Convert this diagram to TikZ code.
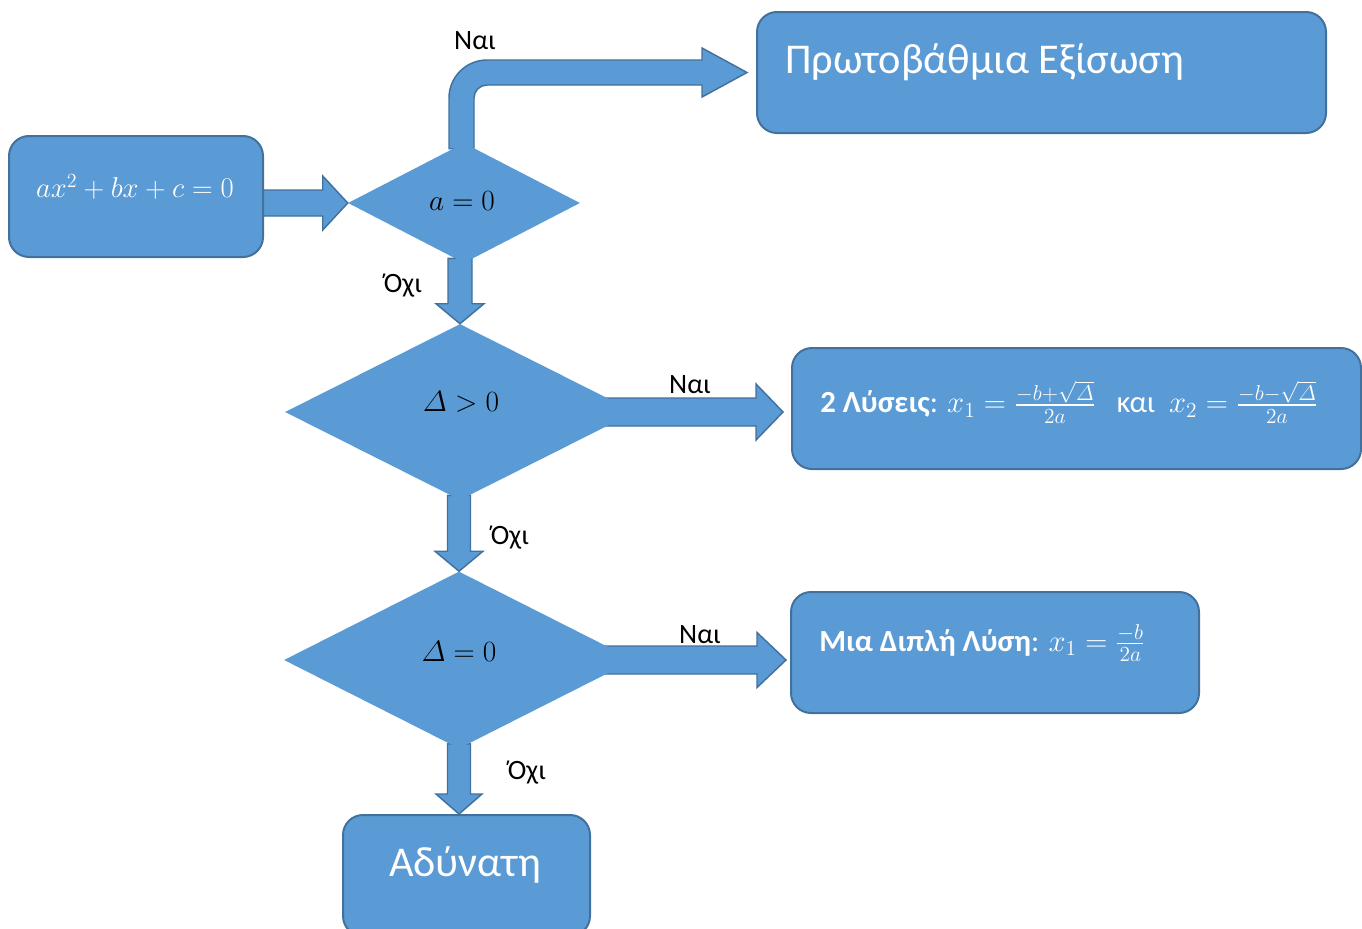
\RequirePackage{fix-cm}
\documentclass[tikz,border=0pt]{standalone}
\usepackage{amsmath}
\usepackage[no-math]{fontspec}
\setmainfont{Carlito}
\usetikzlibrary{shapes.geometric,calc,backgrounds}
\definecolor{boxfill}{HTML}{5B9BD5}
\definecolor{boxline}{HTML}{41719C}
\def\px{0.75pt}
\newcommand\fs[1]{\fontsize{#1}{#1}\selectfont}
% horizontal block arrow: start, tip, shaft half width, head length, head half width
\newcommand\blockH[5]{\draw[barrow] let \p1=(#1), \p2=(#2) in
  (\x1,\y2+#3*\px) -- (\x2-#4*\px,\y2+#3*\px) -- (\x2-#4*\px,\y2+#5*\px) -- (\x2,\y2)
  -- (\x2-#4*\px,\y2-#5*\px) -- (\x2-#4*\px,\y2-#3*\px) -- (\x1,\y2-#3*\px) -- cycle;}
% vertical (downward) block arrow
\newcommand\blockV[5]{\draw[barrow] let \p1=(#1), \p2=(#2) in
  (\x2-#3*\px,\y1) -- (\x2-#3*\px,\y2+#4*\px) -- (\x2-#5*\px,\y2+#4*\px) -- (\x2,\y2)
  -- (\x2+#5*\px,\y2+#4*\px) -- (\x2+#3*\px,\y2+#4*\px) -- (\x2+#3*\px,\y1) -- cycle;}
\begin{document}
\begin{tikzpicture}[x=0.75pt,y=-0.75pt,
  blk/.style={rectangle, rounded corners=15pt, draw=boxline, fill=boxfill, line width=1.5pt, inner sep=0pt},
  dia/.style={diamond, fill=boxfill, inner sep=0pt, aspect=1},
  barrow/.style={fill=boxfill, draw=boxline, line width=1.1pt, line join=miter},
  lbl/.style={font=\fs{21pt}, text=black, inner sep=0pt},
  wtxt/.style={text=white, inner sep=0pt},
  dtxt/.style={text=black, inner sep=0pt, font=\fs{22pt}}]
\useasboundingbox (0,0) rectangle (1362,928);

% boxes
\node[blk, minimum width=254*\px, minimum height=121*\px] (in) at (136,196.5) {};
\node[blk, minimum width=569*\px, minimum height=121*\px] (box2) at (1041.5,72.5) {};
\node[blk, minimum width=569*\px, minimum height=121*\px] (box3) at (1076.5,408.5) {};
\node[blk, minimum width=408*\px, minimum height=121*\px] (box4) at (995,652.5) {};
\node[blk, minimum width=247*\px, minimum height=121*\px] (box5) at (466.5,875.5) {};

% diamonds
\node[dia, minimum width=232*\px, minimum height=120*\px] (d1) at (464,203) {};
\node[dia, minimum width=350*\px, minimum height=176*\px] (d2) at (460,412) {};
\node[dia, minimum width=350*\px, minimum height=177*\px] (d3) at (459,660) {};

% texts
\node[wtxt, font=\fs{21.5pt}] (in-t) at (135,187) {$ax^2+bx+c=0$};
\node[wtxt, font=\fs{31.8pt}, anchor=west] (box2-t) at (785,62) {Πρωτοβάθμια Εξίσωση};
\node[wtxt, font=\fs{23pt}, anchor=west] (box3-t) at (820,402)
  {\textbf{2 Λύσεις}: $x_1=\frac{-b+\sqrt{\varDelta}}{2a}$\hspace{0.7em}και\hspace{0.45em}$x_2=\frac{-b-\sqrt{\varDelta}}{2a}$};
\node[wtxt, font=\fs{23pt}, anchor=west] (box4-t) at (819,643)
  {\textbf{Μια Διπλή Λύση}: $x_1=\frac{-b}{2a}$};
\node[wtxt, font=\fs{31.8pt}] (box5-t) at (465,865) {Αδύνατη};

\node[dtxt] (d1-t) at (462,201) {$a=0$};
\node[dtxt] (d2-t) at (461,402) {$\varDelta>0$};
\node[dtxt] (d3-t) at (459,651) {$\varDelta=0$};

% labels
\node[lbl] (l1) at (475,41) {Ναι};
\node[lbl] (l2) at (403,286) {Όχι};
\node[lbl] (l3) at (690,385) {Ναι};
\node[lbl] (l4) at (510,538) {Όχι};
\node[lbl] (l5) at (700,635) {Ναι};
\node[lbl] (l6) at (527,773) {Όχι};

\begin{scope}[on background layer]
\fill[white] (0,0) rectangle (1362,928);
% input -> a=0
\blockH{$(in.east)+(-5,0)$}{d1.west}{13}{25}{27}
% a=0 -> first-degree (bent arrow)
\draw[barrow] let \p1=($(d1.north)+(-2.5,6)$), \p2=($(box2.west)+(-9,0)$) in
  (\x1-12.5*\px,\y1) -- (\x1-12.5*\px,\y2+12.5*\px-38*\px)
  arc[start angle=180, end angle=90, radius=38*\px]
  -- (\x2-45*\px,\y2+12.5*\px) -- (\x2-45*\px,\y2+24.5*\px) -- (\x2,\y2)
  -- (\x2-45*\px,\y2-24.5*\px) -- (\x2-45*\px,\y2-12.5*\px) -- (\x1+12.5*\px+13*\px,\y2-12.5*\px)
  arc[start angle=90, end angle=180, radius=13*\px]
  -- (\x1+12.5*\px,\y1) -- cycle;
% down arrows
\blockV{$(d1.south)+(0,-5)$}{d2.north}{12}{20}{24}
\blockV{$(d2.south)+(0,-5)$}{d3.north}{11.5}{20}{24}
\blockV{$(d3.south)+(0,-5)$}{d3.south |- box5.north}{11.5}{20}{23}
% right arrows
\blockH{$(d2.east)+(-35,0)$}{$(d2.east -| box3.west)+(-8,0)$}{14}{27}{28}
\blockH{$(d3.east)+(-35,0)$}{$(d3.east -| box4.west)+(-4,0)$}{14}{29}{27.5}
\end{scope}
\end{tikzpicture}
\end{document}
